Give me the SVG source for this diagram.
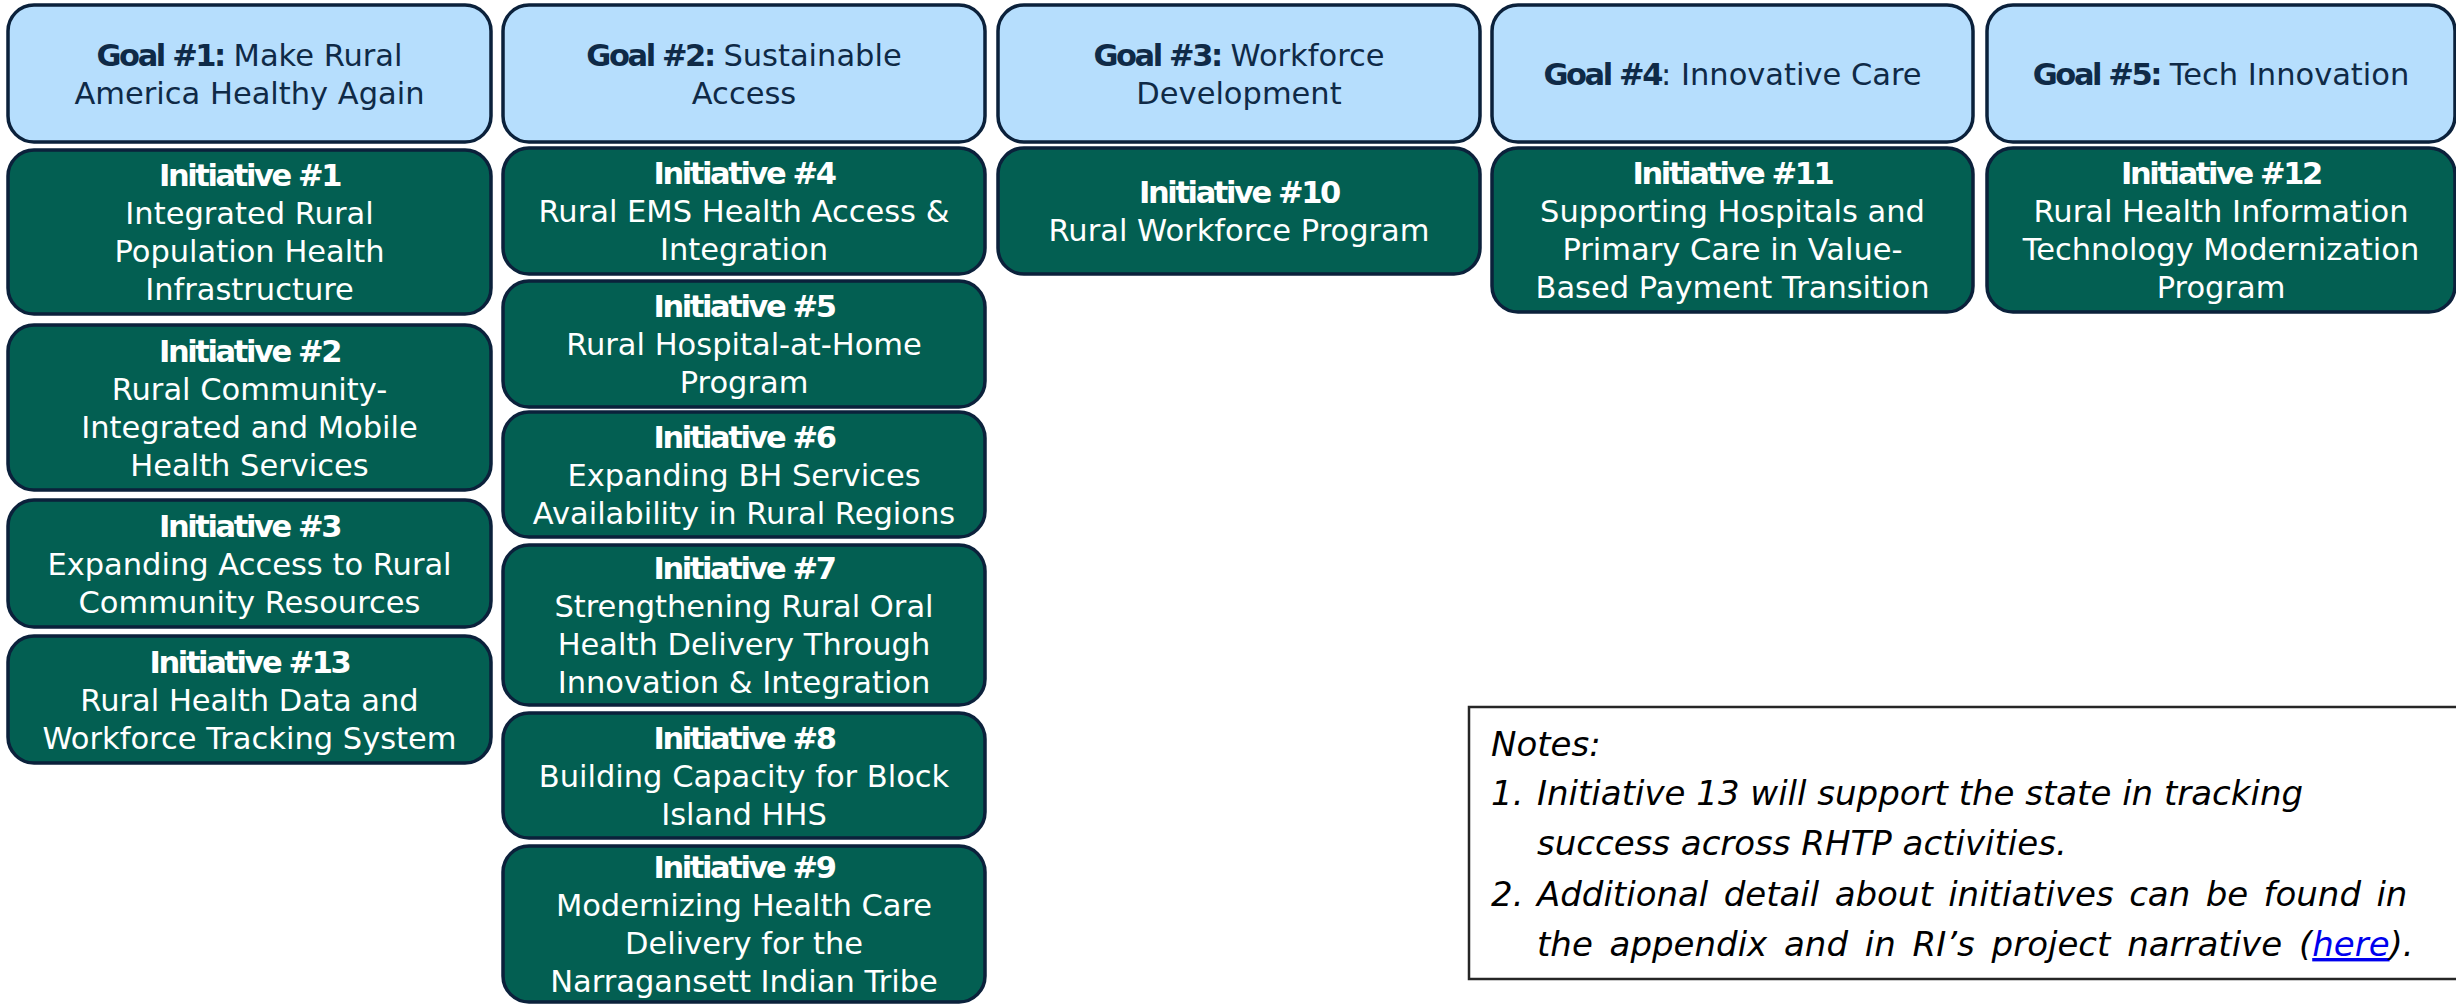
<svg xmlns="http://www.w3.org/2000/svg" width="2456" height="1005" viewBox="0 0 2456 1005">
<style>
.goal rect{fill:#b6defd;stroke:#0b213b;stroke-width:3.5}
.init rect{fill:#035f52;stroke:#0b213b;stroke-width:3.5}
text{font-family:"DejaVu Sans","Verdana",sans-serif;font-size:30.5px;text-anchor:middle}
.goal text{fill:#0f2a47}
.init text{fill:#ffffff}
.b{font-weight:bold;letter-spacing:-2.4px}
.notes text{font-size:34px;font-style:italic;fill:#000;text-anchor:start}
.notes rect{fill:none;stroke:#262626;stroke-width:2.5}
.link{fill:#0000ee;text-decoration:underline}
</style>
<rect width="2456" height="1005" fill="#ffffff"/>
<g id="connectors"></g>

<g id="goal1" class="goal"><rect x="8" y="5" width="483" height="137" rx="26"/>
<text x="249.5" y="65.5"><tspan class="b">Goal #1:</tspan> Make Rural</text>
<text x="249.5" y="103.5">America Healthy Again</text></g>
<g id="goal2" class="goal"><rect x="503" y="5" width="482" height="137" rx="26"/>
<text x="744" y="65.5"><tspan class="b">Goal #2:</tspan> Sustainable</text>
<text x="744" y="103.5">Access</text></g>
<g id="goal3" class="goal"><rect x="998" y="5" width="482" height="137" rx="26"/>
<text x="1239" y="65.5"><tspan class="b">Goal #3:</tspan> Workforce</text>
<text x="1239" y="103.5">Development</text></g>
<g id="goal4" class="goal"><rect x="1492" y="5" width="481" height="137" rx="26"/>
<text x="1732.5" y="84.5"><tspan class="b">Goal #4</tspan>: Innovative Care</text></g>
<g id="goal5" class="goal"><rect x="1987" y="5" width="468" height="137" rx="26"/>
<text x="2221" y="84.5"><tspan class="b">Goal #5:</tspan> Tech Innovation</text></g>

<g id="init1" class="init"><rect x="8" y="150" width="483" height="164" rx="26"/>
<text x="249.5" y="186"><tspan class="b">Initiative #1</tspan></text>
<text x="249.5" y="224">Integrated Rural</text>
<text x="249.5" y="262">Population Health</text>
<text x="249.5" y="300">Infrastructure</text></g>
<g id="init2" class="init"><rect x="8" y="325" width="483" height="165" rx="26"/>
<text x="249.5" y="361.5"><tspan class="b">Initiative #2</tspan></text>
<text x="249.5" y="399.5">Rural Community-</text>
<text x="249.5" y="437.5">Integrated and Mobile</text>
<text x="249.5" y="475.5">Health Services</text></g>
<g id="init3" class="init"><rect x="8" y="500" width="483" height="127" rx="26"/>
<text x="249.5" y="536.5"><tspan class="b">Initiative #3</tspan></text>
<text x="249.5" y="574.5">Expanding Access to Rural</text>
<text x="249.5" y="612.5">Community Resources</text></g>
<g id="init13" class="init"><rect x="8" y="636" width="483" height="127" rx="26"/>
<text x="249.5" y="672.5"><tspan class="b">Initiative #13</tspan></text>
<text x="249.5" y="710.5">Rural Health Data and</text>
<text x="249.5" y="748.5">Workforce Tracking System</text></g>

<g id="init4" class="init"><rect x="503" y="148" width="482" height="126" rx="26"/>
<text x="744" y="184"><tspan class="b">Initiative #4</tspan></text>
<text x="744" y="222">Rural EMS Health Access &amp;</text>
<text x="744" y="260">Integration</text></g>
<g id="init5" class="init"><rect x="503" y="281" width="482" height="126" rx="26"/>
<text x="744" y="317"><tspan class="b">Initiative #5</tspan></text>
<text x="744" y="355">Rural Hospital-at-Home</text>
<text x="744" y="393">Program</text></g>
<g id="init6" class="init"><rect x="503" y="412" width="482" height="125" rx="26"/>
<text x="744" y="447.5"><tspan class="b">Initiative #6</tspan></text>
<text x="744" y="485.5">Expanding BH Services</text>
<text x="744" y="523.5">Availability in Rural Regions</text></g>
<g id="init7" class="init"><rect x="503" y="545" width="482" height="160" rx="26"/>
<text x="744" y="579"><tspan class="b">Initiative #7</tspan></text>
<text x="744" y="617">Strengthening Rural Oral</text>
<text x="744" y="655">Health Delivery Through</text>
<text x="744" y="693">Innovation &amp; Integration</text></g>
<g id="init8" class="init"><rect x="503" y="713" width="482" height="125" rx="26"/>
<text x="744" y="748.5"><tspan class="b">Initiative #8</tspan></text>
<text x="744" y="786.5">Building Capacity  for Block</text>
<text x="744" y="824.5">Island HHS</text></g>
<g id="init9" class="init"><rect x="503" y="846" width="482" height="156" rx="26"/>
<text x="744" y="878"><tspan class="b">Initiative #9</tspan></text>
<text x="744" y="916">Modernizing Health Care</text>
<text x="744" y="954">Delivery for the</text>
<text x="744" y="992">Narragansett Indian Tribe</text></g>

<g id="init10" class="init"><rect x="998" y="148" width="482" height="126" rx="26"/>
<text x="1239" y="203"><tspan class="b">Initiative #10</tspan></text>
<text x="1239" y="241">Rural Workforce Program</text></g>
<g id="init11" class="init"><rect x="1492" y="148" width="481" height="164" rx="26"/>
<text x="1732.5" y="184"><tspan class="b">Initiative #11</tspan></text>
<text x="1732.5" y="222">Supporting Hospitals and</text>
<text x="1732.5" y="260">Primary Care in Value-</text>
<text x="1732.5" y="298">Based Payment Transition</text></g>
<g id="init12" class="init"><rect x="1987" y="148" width="468" height="164" rx="26"/>
<text x="2221" y="184"><tspan class="b">Initiative #12</tspan></text>
<text x="2221" y="222">Rural Health Information</text>
<text x="2221" y="260">Technology Modernization</text>
<text x="2221" y="298">Program</text></g>

<g id="notes" class="notes"><rect x="1469" y="707" width="1000" height="272"/>
<text x="1491" y="756">Notes:</text>
<text x="1491" y="805">1.</text>
<text x="1537" y="805">Initiative 13 will support the state in tracking</text>
<text x="1537" y="855">success across RHTP activities.</text>
<text x="1491" y="906">2.</text>
<text x="1537" y="906" word-spacing="4.6">Additional detail about initiatives can be found in</text>
<text x="1537" y="956" word-spacing="6">the appendix and in RI’s project narrative (<tspan class="link">here</tspan>).</text></g>
</svg>
